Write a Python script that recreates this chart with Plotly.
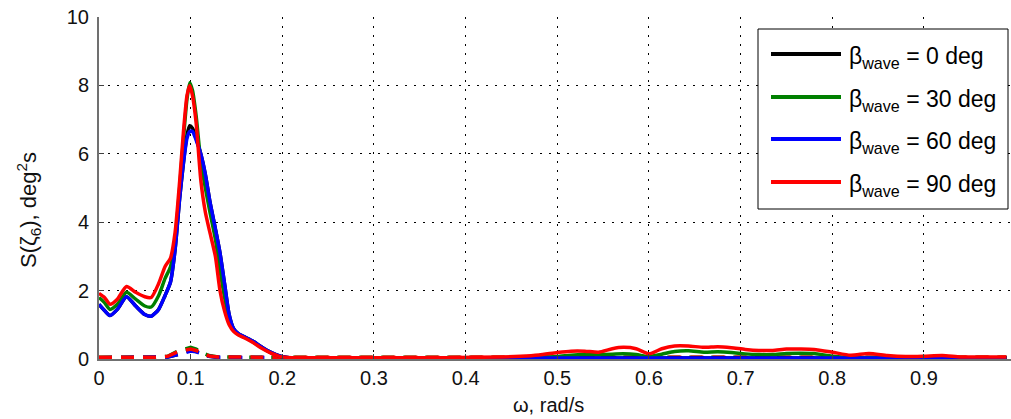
import plotly.graph_objects as go

# Frequency grid (rad/s): low band with the roll resonance, high band with the wave-frequency hump
w_low = [0.000, 0.006, 0.012, 0.020, 0.030, 0.040, 0.050, 0.057, 0.065, 0.072,
         0.078, 0.083, 0.088, 0.092, 0.096, 0.099, 0.102, 0.106, 0.111, 0.116,
         0.121, 0.127, 0.132, 0.137, 0.142, 0.147, 0.152, 0.160, 0.168, 0.177,
         0.187, 0.198, 0.210, 0.230, 0.300, 0.380]
w_high = [0.440, 0.460, 0.480, 0.500, 0.515, 0.530, 0.545, 0.560, 0.572, 0.586,
          0.600, 0.614, 0.628, 0.643, 0.660, 0.675, 0.690, 0.705, 0.720, 0.735,
          0.750, 0.765, 0.780, 0.800, 0.820, 0.840, 0.860, 0.880, 0.900, 0.920,
          0.940, 0.960, 0.990]

# Spectra S(zeta_6), deg^2 s, for each wave heading
s0_low = [1.60, 1.42, 1.27, 1.45, 1.82, 1.55, 1.30, 1.25, 1.45, 1.85,
          2.25, 3.20, 4.70, 5.70, 6.55, 6.82, 6.75, 6.45, 6.00, 5.40,
          4.60, 3.80, 3.10, 2.20, 1.30, 0.88, 0.74, 0.63, 0.52, 0.36,
          0.20, 0.08, 0.03, 0.03, 0.03, 0.03]
s0_high = [0.03] * 33

s30_low = [1.80, 1.65, 1.45, 1.60, 1.95, 1.75, 1.55, 1.52, 1.85, 2.35,
           2.70, 3.50, 5.00, 6.40, 7.60, 8.08, 7.85, 7.10, 5.80, 5.00,
           4.30, 3.50, 2.60, 1.80, 1.15, 0.84, 0.72, 0.62, 0.50, 0.34,
           0.19, 0.07, 0.03, 0.03, 0.03, 0.03]
s30_high = [0.04, 0.04, 0.05, 0.07, 0.11, 0.13, 0.13, 0.14, 0.15, 0.13,
            0.07, 0.14, 0.22, 0.24, 0.20, 0.21, 0.19, 0.15, 0.13, 0.13,
            0.16, 0.17, 0.16, 0.08, 0.04, 0.04, 0.04, 0.04, 0.04, 0.04,
            0.04, 0.04, 0.04]

s60_low = [1.60, 1.42, 1.27, 1.45, 1.82, 1.55, 1.30, 1.25, 1.45, 1.85,
           2.25, 3.20, 4.70, 5.70, 6.45, 6.65, 6.65, 6.40, 6.00, 5.40,
           4.60, 3.80, 3.10, 2.20, 1.30, 0.88, 0.74, 0.63, 0.52, 0.36,
           0.20, 0.08, 0.03, 0.03, 0.03, 0.03]
s60_high = [0.03] * 33

s90_low = [1.92, 1.80, 1.60, 1.75, 2.12, 1.95, 1.82, 1.80, 2.20, 2.70,
           2.95, 3.70, 5.20, 6.60, 7.70, 8.00, 7.70, 6.90, 5.25, 4.30,
           3.70, 3.00, 2.00, 1.40, 1.00, 0.80, 0.70, 0.60, 0.48, 0.32,
           0.18, 0.07, 0.04, 0.04, 0.04, 0.04]
s90_high = [0.06, 0.08, 0.12, 0.19, 0.23, 0.23, 0.20, 0.30, 0.34, 0.30,
            0.15, 0.30, 0.38, 0.38, 0.34, 0.36, 0.33, 0.28, 0.25, 0.25,
            0.29, 0.29, 0.28, 0.20, 0.11, 0.16, 0.10, 0.07, 0.08, 0.10,
            0.06, 0.06, 0.06]

# Companion (dashed) spectra, small everywhere
w_dash = [0.000, 0.060, 0.075, 0.085, 0.092, 0.100, 0.106, 0.112, 0.120, 0.130,
          0.150, 0.200, 0.500, 0.990]
d0 = [0.04, 0.04, 0.06, 0.12, 0.18, 0.26, 0.22, 0.15, 0.08, 0.05, 0.04, 0.04, 0.04, 0.04]
d30 = [0.05, 0.05, 0.08, 0.22, 0.28, 0.34, 0.29, 0.19, 0.10, 0.06, 0.05, 0.05, 0.05, 0.05]
d60 = [0.04, 0.04, 0.06, 0.12, 0.17, 0.23, 0.21, 0.15, 0.08, 0.05, 0.04, 0.04, 0.04, 0.04]
d90 = [0.05, 0.05, 0.08, 0.20, 0.25, 0.29, 0.25, 0.17, 0.09, 0.06, 0.05, 0.05, 0.05, 0.05]

headings = [0, 30, 60, 90]
colors = ["#000000", "#008000", "#0000ff", "#ff0000"]
solid = [(s0_low, s0_high), (s30_low, s30_high), (s60_low, s60_high), (s90_low, s90_high)]
dashed = [d0, d30, d60, d90]

x_ticks = [0, 0.1, 0.2, 0.3, 0.4, 0.5, 0.6, 0.7, 0.8, 0.9]
x_tick_text = ["0", "0.1", "0.2", "0.3", "0.4", "0.5", "0.6", "0.7", "0.8", "0.9"]
y_ticks = [0, 2, 4, 6, 8, 10]

FONT = "Liberation Sans, Arial, sans-serif"

# plot-area geometry in pixels, used to place the boxed legend
L, R, T, B = 99, 1011, 17, 359


def px(xp):
    return (xp - L) / (R - L)


def py(yp):
    return (B - yp) / (B - T)


fig = go.Figure()

for col, dvals in zip(colors, dashed):
    fig.add_trace(go.Scatter(x=w_dash, y=dvals, mode="lines", showlegend=False,
                             line=dict(color=col, width=3.5, dash="13px,9px")))

for hd, col, (lo, hi) in zip(headings, colors, solid):
    fig.add_trace(go.Scatter(
        x=w_low + w_high, y=lo + hi, mode="lines", showlegend=False,
        name=f"β<sub>wave</sub> = {hd} deg",
        line=dict(color=col, width=3.5, shape="spline", smoothing=0.6)))

axis_common = dict(
    showgrid=True, gridcolor="#000000", gridwidth=1, griddash="2px,7px",
    showline=True, linecolor="#707070", linewidth=2,
    ticks="inside", ticklen=5, tickcolor="#404040", tickwidth=1,
    zeroline=False, mirror=False,
    tickfont=dict(family=FONT, size=20, color="#111111"),
)

# boxed legend: frame, line samples and labels
shapes = [dict(type="rect", xref="paper", yref="paper",
               x0=px(758), x1=px(1008), y0=py(209), y1=py(29),
               line=dict(color="#000000", width=1), fillcolor="white", layer="above")]
annotations = []
row_y = [54, 97, 139, 182]
for hd, col, ry in zip(headings, colors, row_y):
    shapes.append(dict(type="line", xref="paper", yref="paper",
                       x0=px(771), x1=px(841), y0=py(ry), y1=py(ry),
                       line=dict(color=col, width=4), layer="above"))
    annotations.append(dict(
        text=f"β<sub>wave</sub> = {hd} deg", xref="paper", yref="paper",
        x=px(847), y=py(ry + 3), xanchor="left", yanchor="middle", showarrow=False,
        font=dict(family=FONT, size=23, color="#000000")))

annotations += [
    dict(text="ω, rad/s", xref="paper", yref="paper", x=px(548), y=py(418),
         xanchor="center", yanchor="bottom", showarrow=False,
         font=dict(family=FONT, size=20, color="#111111")),
    dict(text="S(ζ<sub>6</sub>), deg<sup>2</sup>s", xref="paper", yref="paper",
         x=px(28), y=py(210), xanchor="center", yanchor="middle", textangle=-90,
         showarrow=False, font=dict(family=FONT, size=22, color="#111111")),
]

fig.update_layout(
    width=1011, height=419,
    margin=dict(l=L, r=1011 - R, t=T, b=419 - B),
    paper_bgcolor="white", plot_bgcolor="white",
    showlegend=False,
    xaxis=dict(range=[0, 0.995], tickvals=x_ticks, ticktext=x_tick_text, **axis_common),
    yaxis=dict(range=[0, 10], tickvals=y_ticks, ticklabelstandoff=4, **axis_common),
    shapes=shapes,
    annotations=annotations,
)

fig.write_html("out.html")
